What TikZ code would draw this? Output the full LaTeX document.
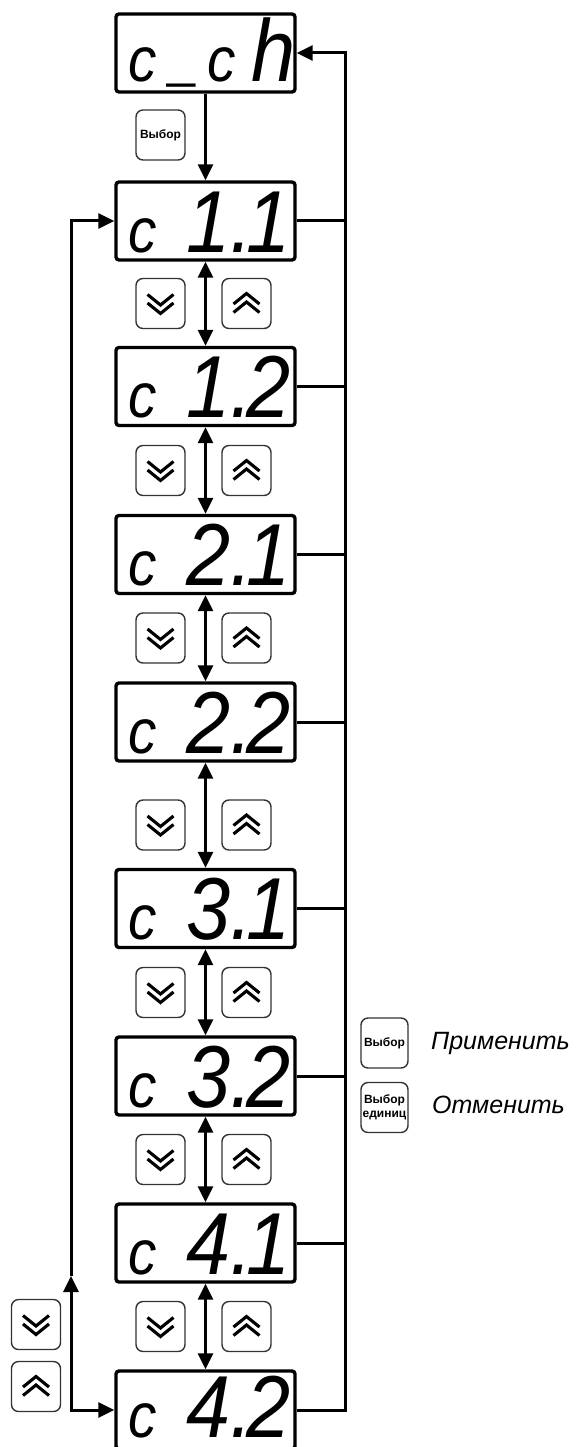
\documentclass[tikz,border=0pt]{standalone}
\usepackage{fontspec}
\setmainfont{Liberation Sans}
\newfontfamily\segfont{Liberation Sans}[FakeStretch=0.9]
\usetikzlibrary{arrows.meta}
\newcommand\smc{{\fontsize{63}{63}\selectfont c}}
\begin{document}
\begin{tikzpicture}[x=1pt,y=-1pt,
  disp/.style={draw, line width=3.4pt, rounded corners=3pt, minimum width=179pt, minimum height=78pt, inner sep=0pt},
  btn/.style={draw=black!80, line width=1.4pt, rounded corners=7pt, minimum width=49pt, minimum height=50pt, inner sep=0pt, align=center, font=\bfseries\fontsize{12}{13.5}\selectfont},
  conn/.style={line width=3pt},
  tip/.tip={Triangle[length=16pt,width=15pt]},
  arr/.style={conn, -tip},
  darr/.style={conn, tip-tip},
  segtxt/.style={anchor=base west, inner sep=0pt, text depth=0pt, font=\segfont\itshape\fontsize{88}{88}\selectfont},
  legtxt/.style={anchor=west, inner sep=0pt, font=\itshape\fontsize{25}{25}\selectfont},
  chev/.style={line width=3.1pt},
  downchev/.pic={\draw[chev] (-13,-9) -- (0,1.5) -- (13,-9) (-13,-0.5) -- (0,10) -- (13,-0.5);},
  upchev/.pic={\draw[chev] (-13,9) -- (0,-1.5) -- (13,9) (-13,0.5) -- (0,-10) -- (13,0.5);},
]
\useasboundingbox (0,0) rectangle (576,1447);

% displays
\node[disp] (cch) at (205.5,53) {};
\node[disp] (c11) at (205.5,221) {};
\node[disp] (c12) at (205.5,386.5) {};
\node[disp] (c21) at (205.5,554.5) {};
\node[disp] (c22) at (205.5,722) {};
\node[disp] (c31) at (205.5,908.5) {};
\node[disp] (c32) at (205.5,1076) {};
\node[disp] (c41) at (205.5,1243) {};
\node[disp] (c42) at (205.5,1410) {};

% display texts
\node[segtxt] (tcch) at (128,82) {\smc\kern14pt\raisebox{5pt}{\scalebox{0.65}[1]{\_}}\kern8pt\smc\kern16pt h};
\node[segtxt] (t11) at (128,252) {\smc{} \kern8pt 1.\kern-6pt 1};
\node[segtxt] (t12) at (128,417.5) {\smc{} \kern8pt 1.\kern-6pt 2};
\node[segtxt] (t21) at (128,585.5) {\smc{} \kern8pt 2.\kern-6pt 1};
\node[segtxt] (t22) at (128,753) {\smc{} \kern8pt 2.\kern-6pt 2};
\node[segtxt] (t31) at (128,939.5) {\smc{} \kern8pt 3.\kern-6pt 1};
\node[segtxt] (t32) at (128,1107) {\smc{} \kern8pt 3.\kern-6pt 2};
\node[segtxt] (t41) at (128,1274) {\smc{} \kern8pt 4.\kern-6pt 1};
\node[segtxt] (t42) at (128,1437) {\smc{} \kern8pt 4.\kern-6pt 2};

% select button under c_ch
\node[btn] (sel) at (160.5,135) {Выбор};

% down / up buttons between displays
\foreach \n/\y in {a/303.5, b/470.5, c/638, d/825, e/992.5, f/1159.5, g/1326.5}{
  \node[btn] (dn\n) at (160.5,\y) {};
  \pic at (dn\n) {downchev};
  \node[btn] (up\n) at (246.5,\y) {};
  \pic at (up\n) {upchev};
}

% left buttons
\node[btn] (ldn) at (36,1324.5) {};
\pic at (ldn) {downchev};
\node[btn] (lup) at (36,1386.5) {};
\pic at (lup) {upchev};

% legend
\node[btn, minimum width=47pt] (lsel) at (384.5,1043) {Выбор};
\node[btn, minimum width=47pt] (lcan) at (384.5,1107.5) {Выбор\\единиц};
\node[legtxt] (apply) at (431,1043) {Применить};
\node[legtxt] (cancel) at (432,1105) {Отменить};

% vertical connectors
\draw[arr] (cch.south) -- (c11.north);
\draw[darr] (c11.south) -- (c12.north);
\draw[darr] (c12.south) -- (c21.north);
\draw[darr] (c21.south) -- (c22.north);
\draw[darr] (c22.south) -- (c31.north);
\draw[darr] (c31.south) -- (c32.north);
\draw[darr] (c32.south) -- (c41.north);
\draw[darr] (c41.south) -- (c42.north);

% right return line
\coordinate (rtop) at (345,53);
\draw[arr] (c42.east) -- (c42.east -| rtop) -- (rtop) -- (cch.east);
\foreach \b in {c11,c12,c21,c22,c31,c32,c41}{
  \draw[conn] (\b.east) -- (\b.east -| rtop);
}

% left wrap line
\coordinate (lbot) at (71,1410);
\coordinate (lmid) at (71,1276);
\coordinate (ltop) at (71,221);
\draw[conn, tip-tip] (lmid) -- (lbot) -- (c42.west);
\draw[arr] (lmid) -- (ltop) -- (c11.west);
\end{tikzpicture}
\end{document}
